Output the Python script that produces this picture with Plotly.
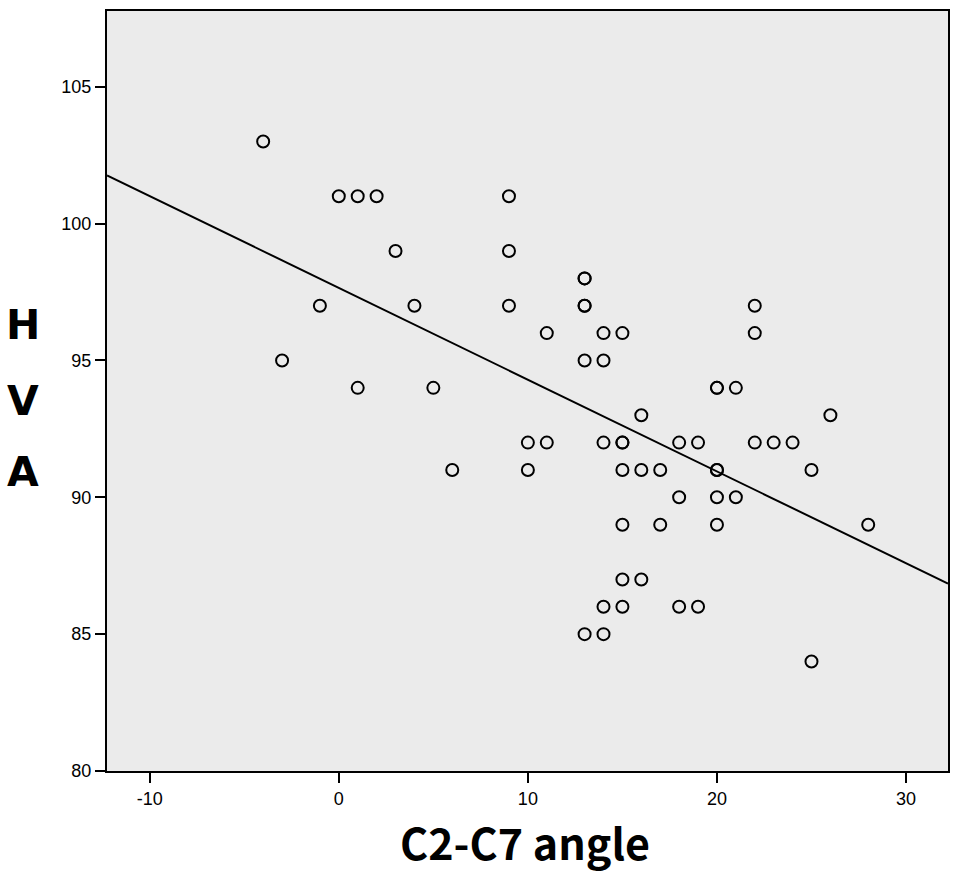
import numpy as np
import plotly.graph_objects as go

# C2-C7 angle (x) and HVA (y)
angle = [-4, -3, -1, 0, 1, 2, 3, 1, 4, 5, 6,
         9, 9, 9, 10, 10, 11, 11,
         13, 13, 13, 13, 13, 13,
         14, 14, 14, 14, 14,
         15, 15, 15, 15, 15, 15, 15,
         16, 16, 16, 17, 17, 18, 18, 18, 19, 19,
         20, 20, 20, 20, 20, 20, 21, 21,
         22, 22, 22, 23, 24, 25, 25, 26, 28]
hva = [103, 95, 97, 101, 101, 101, 99, 94, 97, 94, 91,
       101, 99, 97, 92, 91, 96, 92,
       98, 98, 97, 97, 95, 85,
       96, 95, 92, 86, 85,
       96, 92, 92, 91, 89, 87, 86,
       93, 91, 87, 91, 89, 92, 90, 86, 92, 86,
       94, 94, 91, 91, 90, 89, 94, 90,
       97, 96, 92, 92, 92, 91, 84, 93, 89]

y_ticks = [80, 85, 90, 95, 100, 105]
x_ticks = [-10, 0, 10, 20, 30]
x_labels = ['-10', '0', '10', '20', '30']

x_range = [-12.26, 32.22]
y_range = [80, 107.77]

# least squares fit line
slope, intercept = np.polyfit(angle, hva, 1)
line_x = np.array(x_range)
line_y = intercept + slope * line_x

fig = go.Figure()
fig.add_trace(go.Scatter(
    x=line_x, y=line_y, mode='lines',
    line=dict(color='black', width=2), hoverinfo='skip'))
fig.add_trace(go.Scatter(
    x=angle, y=hva, mode='markers',
    marker=dict(symbol='circle-open', size=12, color='black',
                line=dict(width=2, color='black'))))

tick_font = dict(family='Liberation Sans, Arial', size=18, color='black')

fig.update_layout(
    width=959, height=872,
    margin=dict(l=107, r=10, t=9, b=101),
    paper_bgcolor='white', plot_bgcolor='#ebebeb',
    showlegend=False,
    xaxis=dict(range=x_range, tickvals=x_ticks, ticktext=x_labels, ticks='outside',
               ticklen=10, tickwidth=2, tickcolor='black', showgrid=False,
               zeroline=False, showline=True, linecolor='black', linewidth=2,
               mirror=True, tickfont=tick_font),
    yaxis=dict(range=y_range, tickvals=y_ticks, ticks='outside', ticklen=10,
               tickwidth=2, tickcolor='black', showgrid=False, zeroline=False,
               showline=True, linecolor='black', linewidth=2, mirror=True,
               tickfont=tick_font),
)

# axis titles
fig.add_annotation(text='C2-C7 angle', xref='paper', yref='paper', x=0.497, y=-0.092,
                   yanchor='middle', showarrow=False,
                   font=dict(family='Noto Sans CJK KR, Noto Sans', size=43, color='black',
                             weight='bold'))
for letter, ypos in zip(['H', 'V', 'A'], [0.5866, 0.4869, 0.3937]):
    fig.add_annotation(text=letter, xref='paper', yref='paper', x=-0.0998, y=ypos,
                       xanchor='center', yanchor='middle', showarrow=False,
                       font=dict(family='DejaVu Sans, Liberation Sans', size=41,
                                 color='black', weight='bold'))

fig.write_html('out.html', config={'displayModeBar': False},
               post_script="document.body.style.margin='0';")
